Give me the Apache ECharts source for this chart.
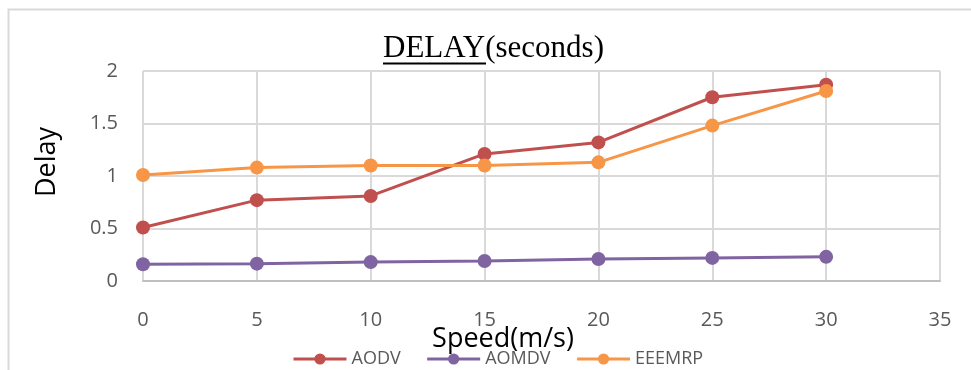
<!DOCTYPE html>
<html>
<head>
<meta charset="utf-8">
<script src="https://cdn.jsdelivr.net/npm/echarts@6/dist/echarts.min.js"></script>
<style>
  html, body { margin: 0; padding: 0; background: #fff; }
  #chart { width: 971px; height: 370px; }
</style>
</head>
<body>
<div id="chart"></div>
<script>
// Node speed (m/s) on the x axis
var speeds = [0, 5, 10, 15, 20, 25, 30];
// End-to-end delay in seconds for each routing protocol
var aodv   = [0.51, 0.77, 0.81, 1.21, 1.32, 1.75, 1.87];
var aomdv  = [0.16, 0.165, 0.18, 0.19, 0.21, 0.22, 0.23];
var eeemrp = [1.01, 1.08, 1.10, 1.10, 1.13, 1.48, 1.81];
var seriesNames = ['AODV', 'AOMDV', 'EEEMRP'];
var seriesColors = ['#c0504d', '#8064a2', '#f79646'];

function pairs(values) {
  return speeds.map(function (s, i) { return [s, values[i]]; });
}

var chart = echarts.init(document.getElementById('chart'), null, { renderer: 'canvas' });

var labelFont = '"Open Sans", "Noto Sans", sans-serif';

function lineSeries(name, values, color) {
  return {
    name: name,
    type: 'line',
    data: pairs(values),
    symbol: 'circle',
    symbolSize: 14,
    lineStyle: { color: color, width: 3 },
    itemStyle: { color: color },
    emphasis: { disabled: true },
    animation: false
  };
}

chart.setOption({
  animation: false,
  backgroundColor: '#ffffff',
  grid: { left: 143, right: 31, top: 71, height: 210, containLabel: false },
  xAxis: {
    type: 'value',
    min: 0, max: 35, interval: 5,
    axisLine: { show: true, lineStyle: { color: '#bfbfbf', width: 2 } },
    axisTick: { show: false },
    splitLine: { show: true, lineStyle: { color: '#d9d9d9', width: 2 } },
    axisLabel: { color: '#595959', fontSize: 20, fontFamily: labelFont, margin: 29, showMaxLabel: true, showMinLabel: true }
  },
  yAxis: {
    type: 'value',
    min: 0, max: 2, interval: 0.5,
    axisLine: { show: false },
    axisTick: { show: false },
    splitLine: { show: true, lineStyle: { color: '#d9d9d9', width: 2 } },
    axisLabel: { color: '#595959', fontSize: 20, fontFamily: labelFont, margin: 25 }
  },
  legend: {
    data: seriesNames,
    bottom: -3,
    left: 287,
    itemWidth: 53,
    itemHeight: 14,
    itemGap: 25,
    lineStyle: { width: 3 },
    textStyle: { color: '#595959', fontSize: 18, fontFamily: labelFont },
    selectedMode: false
  },
  series: [
    lineSeries(seriesNames[0], aodv, seriesColors[0]),
    lineSeries(seriesNames[1], aomdv, seriesColors[1]),
    lineSeries(seriesNames[2], eeemrp, seriesColors[2])
  ],
  graphic: [
    // outer chart frame
    { type: 'polyline', silent: true, z: 0,
      shape: { points: [[972, 9.5], [8.5, 9.5], [8.5, 372]] },
      style: { stroke: '#d9d9d9', lineWidth: 2, fill: null } },
    // chart title
    { type: 'text', silent: true, x: 383, y: 49,
      style: { text: 'DELAY(seconds)', font: '31px "Liberation Serif", "Times New Roman", serif',
               fill: '#000000', textAlign: 'left', textVerticalAlign: 'middle' } },
    { type: 'line', silent: true,
      shape: { x1: 383, y1: 63.5, x2: 486, y2: 63.5 },
      style: { stroke: '#000000', lineWidth: 2 } },
    // axis titles
    { type: 'text', silent: true, x: 47, y: 162, rotation: Math.PI / 2,
      style: { text: 'Delay', font: '27px ' + labelFont, fill: '#000000',
               textAlign: 'center', textVerticalAlign: 'middle' } },
    { type: 'text', silent: true, x: 503, y: 339,
      style: { text: 'Speed(m/s)', font: '27px ' + labelFont, fill: '#000000',
               textAlign: 'center', textVerticalAlign: 'middle' } }
  ]
});
</script>
</body>
</html>
